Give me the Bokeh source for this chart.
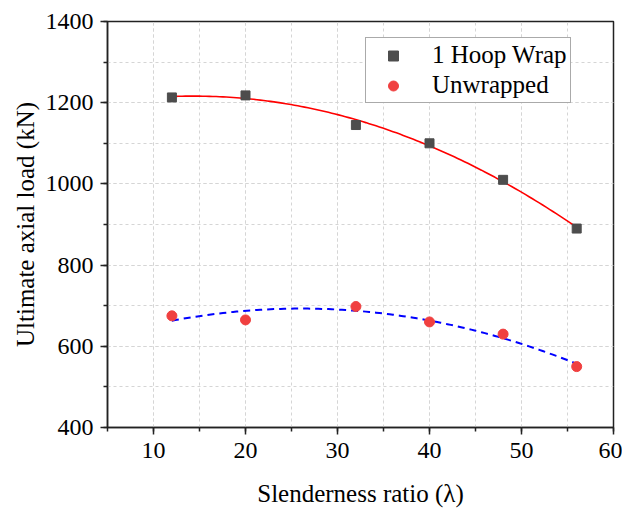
import numpy as np
from bokeh.plotting import figure
from bokeh.models import SingleIntervalTicker, Range1d, Legend, LegendItem
from bokeh.embed import file_html
from bokeh.resources import INLINE

slenderness = [12, 20, 32, 40, 48, 56]
hoop_wrap = [1213, 1218, 1145, 1100, 1010, 890]
unwrapped = [675, 665, 698, 660, 630, 550]

FONT = "Liberation Serif"

p = figure(width=622, height=509, output_backend="svg", toolbar_location=None,
           x_range=Range1d(5, 60), y_range=Range1d(400, 1400),
           min_border_left=107, min_border_right=9, min_border_top=21, min_border_bottom=81)
p.background_fill_color = "white"
p.border_fill_color = "white"
p.outline_line_color = "#222222"
p.outline_line_width = 1.5

# fitted quadratic trend lines (regression of the data)
xs = np.linspace(min(slenderness), max(slenderness), 120)
c1 = np.polyfit(slenderness, hoop_wrap, 2)
c2 = np.polyfit(slenderness, unwrapped, 2)
p.line(xs, np.polyval(c1, xs), line_color="#FF0000", line_width=1.6)
p.line(xs, np.polyval(c2, xs), line_color="#0000FF", line_width=2, line_dash="7 5")

r1 = p.scatter(slenderness, hoop_wrap, marker="square", size=9, fill_color="#4D4D4D", line_color="#4D4D4D")
r2 = p.scatter(slenderness, unwrapped, marker="circle", size=10, fill_color="#F04040", line_color="#F04040")

for ax in (p.xaxis[0], p.yaxis[0]):
    ax.axis_line_width = 1.5
    ax.axis_line_color = "#222222"
    ax.major_tick_line_color = "#222222"
    ax.minor_tick_line_color = "#222222"
    ax.major_tick_line_width = 1.5
    ax.minor_tick_line_width = 1.5
    ax.major_tick_out = 7
    ax.major_tick_in = 0
    ax.minor_tick_out = 4
    ax.minor_tick_in = 0
    ax.major_label_text_font = FONT
    ax.major_label_text_font_size = "24px"
    ax.major_label_text_color = "black"
    ax.axis_label_text_font = FONT
    ax.axis_label_text_font_size = "25px"
    ax.axis_label_text_font_style = "normal"
    ax.axis_label_text_color = "black"

p.xaxis.ticker = SingleIntervalTicker(interval=10, num_minor_ticks=2)
p.yaxis.ticker = SingleIntervalTicker(interval=200, num_minor_ticks=2)
p.xaxis.axis_label = "Slenderness ratio (λ)"
p.yaxis.axis_label = "Ultimate axial load (kN)"
p.xaxis.major_label_standoff = 8
p.yaxis.major_label_standoff = 7
p.xaxis.axis_label_standoff = 19
p.yaxis.axis_label_standoff = 4

for g in (p.xgrid[0], p.ygrid[0]):
    g.grid_line_color = "#D5D5D5"
    g.grid_line_dash = "3 3"
    g.grid_line_width = 1
    g.minor_grid_line_color = "#D5D5D5"
    g.minor_grid_line_dash = "3 3"
    g.minor_grid_line_width = 1

legend = Legend(items=[LegendItem(label="1 Hoop Wrap", renderers=[r1]),
                       LegendItem(label="Unwrapped", renderers=[r2])],
                location=(258, 324))
legend.label_text_font = FONT
legend.label_text_font_size = "25px"
legend.label_text_color = "black"
legend.border_line_color = "#555555"
legend.border_line_width = 1
legend.background_fill_alpha = 1
legend.padding = 3
legend.margin = 0
legend.glyph_width = 48
legend.glyph_height = 25
legend.label_height = 25
legend.label_standoff = 15
legend.spacing = 2
p.add_layout(legend, "center")

open("out.html", "w").write(file_html(p, INLINE))
